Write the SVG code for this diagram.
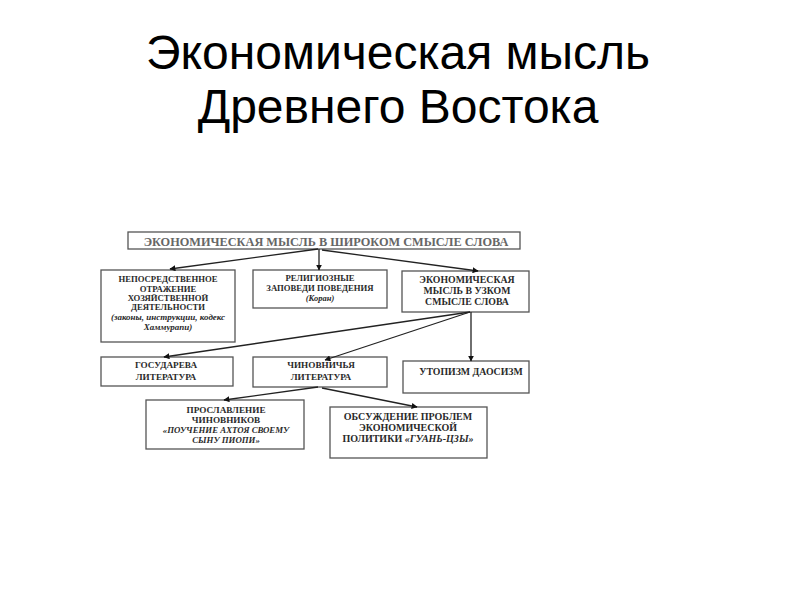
<svg xmlns="http://www.w3.org/2000/svg" width="800" height="600" viewBox="0 0 800 600">
<defs>
<marker id="ah" viewBox="0 0 10 10" refX="9" refY="5" markerWidth="6" markerHeight="6" markerUnits="userSpaceOnUse" orient="auto">
<path d="M0,0 L10,5 L0,10 z" fill="#111"/>
</marker>
<style>
.title{font-family:"Liberation Sans",Arial,sans-serif;font-size:48px;fill:#000;text-anchor:middle}
.box{fill:#fff;stroke:#555;stroke-width:1.3}
.t{font-family:"Liberation Serif","Times New Roman",serif;font-weight:bold;fill:#2a2a2a;text-anchor:middle}
.i{font-style:italic}
.conn line{stroke:#222;stroke-width:1.3;marker-end:url(#ah)}
</style>
</defs>
<rect width="800" height="600" fill="#fff"/>
<g id="title">
<text class="title" x="398" y="69">Экономическая мысль</text>
<text class="title" x="398" y="123">Древнего Востока</text>
</g>
<g id="n_root">
<rect class="box" x="128" y="232" width="392" height="17"/>
<text class="t" x="326" y="245.5" style="font-size:12.3px;fill:#666">ЭКОНОМИЧЕСКАЯ МЫСЛЬ В ШИРОКОМ СМЫСЛЕ СЛОВА</text>
</g>
<g id="n_direct">
<rect class="box" x="101" y="270" width="134" height="72"/>
<text class="t" style="font-size:8.7px" x="168" y="282">НЕПОСРЕДСТВЕННОЕ</text>
<text class="t" style="font-size:8.7px" x="168" y="292">ОТРАЖЕНИЕ</text>
<text class="t" style="font-size:8.7px" x="168" y="301">ХОЗЯЙСТВЕННОЙ</text>
<text class="t" style="font-size:8.7px" x="168" y="310">ДЕЯТЕЛЬНОСТИ</text>
<text class="t i" style="font-size:9px" x="168" y="320">(законы, инструкции, кодекс</text>
<text class="t i" style="font-size:9px" x="168" y="329.5">Хаммурапи)</text>
</g>
<g id="n_relig">
<rect class="box" x="253" y="270" width="134" height="38"/>
<text class="t" style="font-size:8.7px" x="320" y="281">РЕЛИГИОЗНЫЕ</text>
<text class="t" style="font-size:8.7px" x="320" y="291">ЗАПОВЕДИ ПОВЕДЕНИЯ</text>
<text class="t i" style="font-size:8.5px" x="320" y="301">(Коран)</text>
</g>
<g id="n_narrow">
<rect class="box" x="402" y="271" width="127" height="41"/>
<text class="t" style="font-size:9.8px" x="467" y="283">ЭКОНОМИЧЕСКАЯ</text>
<text class="t" style="font-size:9.8px" x="467" y="294">МЫСЛЬ В УЗКОМ</text>
<text class="t" style="font-size:9.8px" x="467" y="305">СМЫСЛЕ СЛОВА</text>
</g>
<g id="n_gos">
<rect class="box" x="101" y="357" width="132" height="29"/>
<text class="t" style="font-size:9.2px" x="166" y="368">ГОСУДАРЕВА</text>
<text class="t" style="font-size:9.2px" x="166" y="380">ЛИТЕРАТУРА</text>
</g>
<g id="n_chin">
<rect class="box" x="253" y="357" width="134" height="30"/>
<text class="t" style="font-size:9.2px" x="321" y="368">ЧИНОВНИЧЬЯ</text>
<text class="t" style="font-size:9.2px" x="321" y="380">ЛИТЕРАТУРА</text>
</g>
<g id="n_utop">
<rect class="box" x="403" y="361" width="126" height="32"/>
<text class="t" style="font-size:9.8px" x="471" y="375">УТОПИЗМ ДАОСИЗМ</text>
</g>
<g id="n_prosl">
<rect class="box" x="146" y="400" width="158" height="49"/>
<text class="t" style="font-size:9.2px" x="226" y="413">ПРОСЛАВЛЕНИЕ</text>
<text class="t" style="font-size:9.2px" x="226" y="423">ЧИНОВНИКОВ</text>
<text class="t i" style="font-size:8.8px" x="226" y="433">«ПОУЧЕНИЕ АХТОЯ СВОЕМУ</text>
<text class="t i" style="font-size:8.8px" x="226" y="443">СЫНУ ПИОПИ»</text>
</g>
<g id="n_obsuzh">
<rect class="box" x="330" y="407" width="157" height="51"/>
<text class="t" style="font-size:10px" x="408" y="420">ОБСУЖДЕНИЕ ПРОБЛЕМ</text>
<text class="t" style="font-size:10px" x="408" y="431">ЭКОНОМИЧЕСКОЙ</text>
<text class="t" style="font-size:10px" x="408" y="442">ПОЛИТИКИ <tspan class="i">«ГУАНЬ-ЦЗЫ»</tspan></text>
</g>
<g id="connectors" class="conn">
<line x1="318" y1="249" x2="170" y2="269"/>
<line x1="319" y1="249" x2="319" y2="270"/>
<line x1="322" y1="250" x2="478" y2="271"/>
<line x1="470" y1="312" x2="164" y2="357"/>
<line x1="470" y1="312" x2="325" y2="360"/>
<line x1="471" y1="312" x2="471" y2="361"/>
<line x1="318" y1="387" x2="224" y2="400"/>
<line x1="322" y1="388" x2="417" y2="407"/>
</g>
</svg>
